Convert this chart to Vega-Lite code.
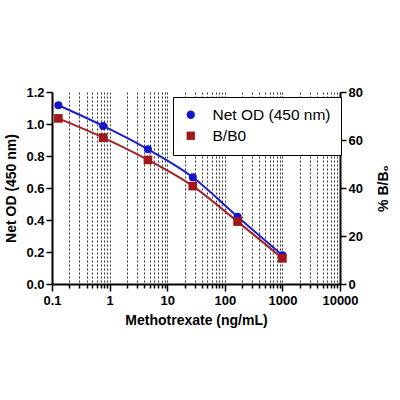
{
  "$schema": "https://vega.github.io/schema/vega-lite/v6.json",
  "autosize": "none",
  "width": 288,
  "height": 192,
  "padding": {"left": 52, "top": 92, "right": 60, "bottom": 116},
  "background": "white",
  "config": {
    "view": {"stroke": null},
    "font": "Liberation Sans",
    "axis": {
      "domainColor": "black",
      "domainWidth": 2,
      "tickColor": "black",
      "tickWidth": 1.5,
      "labelFont": "Liberation Sans",
      "labelFontWeight": "bold",
      "labelFontSize": 13,
      "labelColor": "black",
      "titleFont": "Liberation Sans",
      "titleFontWeight": "bold",
      "titleFontSize": 14,
      "titleColor": "black"
    },
    "legend": {
      "orient": "none",
      "legendX": 121,
      "legendY": 5,
      "strokeColor": "black",
      "fillColor": "white",
      "padding": 10,
      "labelFont": "Liberation Sans",
      "labelFontSize": 15.5,
      "labelColor": "black",
      "symbolSize": 70,
      "rowPadding": 4,
      "labelOffset": 14,
      "labelLimit": 300
    }
  },
  "data": {
    "values": [
      {"conc": 0.129, "od": 1.117, "bb0": 69.0},
      {"conc": 0.772, "od": 0.988, "bb0": 61.0},
      {"conc": 4.63, "od": 0.842, "bb0": 51.7},
      {"conc": 27.8, "od": 0.667, "bb0": 40.8},
      {"conc": 166.7, "od": 0.42, "bb0": 26.0},
      {"conc": 1000, "od": 0.18, "bb0": 10.7}
    ]
  },
  "encoding": {
    "x": {
      "field": "conc",
      "type": "quantitative",
      "scale": {"type": "log", "domain": [0.1, 10000], "nice": false},
      "axis": {
        "title": "Methotrexate (ng/mL)",
        "values": [0.1, 0.2, 0.3, 0.4, 0.5, 0.6, 0.7, 0.8, 0.9, 1, 2, 3, 4, 5, 6, 7, 8, 9, 10, 20, 30, 40, 50, 60, 70, 80, 90, 100, 200, 300, 400, 500, 600, 700, 800, 900, 1000, 2000, 3000, 4000, 5000, 6000, 7000, 8000, 9000, 10000],
        "labelExpr": "indexof([0.1,1,10,100,1000,10000], datum.value) >= 0 ? format(datum.value, '~g') : ''",
        "labelFlush": false,
        "labelOverlap": false,
        "labelPadding": 3,
        "tickSize": {"condition": {"test": "indexof([0.1,1,10,100,1000,10000], datum.value) >= 0", "value": 7}, "value": 4},
        "grid": true,
        "gridColor": "black",
        "gridDash": [2, 2],
        "gridWidth": 1,
        "gridOpacity": 0.8,
        "titlePadding": 6
      }
    }
  },
  "layer": [
    {
      "mark": {"type": "line", "interpolate": "monotone", "color": "#1b22c4", "strokeWidth": 2},
      "encoding": {
        "y": {"field": "od", "type": "quantitative", "scale": {"domain": [0, 1.2], "nice": false}, "axis": null}
      }
    },
    {
      "mark": {"type": "line", "interpolate": "monotone", "color": "#a0242a", "strokeWidth": 2},
      "encoding": {
        "y": {"field": "bb0", "type": "quantitative", "scale": {"domain": [0, 80], "nice": false}, "axis": null}
      }
    },
    {
      "mark": {"type": "point", "filled": true, "opacity": 1, "size": 65},
      "encoding": {
        "y": {
          "field": "od",
          "type": "quantitative",
          "scale": {"domain": [0, 1.2], "nice": false},
          "axis": {
            "title": "Net OD (450 nm)",
            "values": [0, 0.2, 0.4, 0.6, 0.8, 1.0, 1.2],
            "format": ".1f",
            "grid": false,
            "tickSize": 6,
            "titlePadding": 7
          }
        },
        "color": {"datum": "Net OD (450 nm)", "type": "nominal", "scale": {"domain": ["Net OD (450 nm)", "B/B0"], "range": ["#1515cc", "#a3171b"]}, "legend": {"title": null}},
        "shape": {"datum": "Net OD (450 nm)", "type": "nominal", "scale": {"domain": ["Net OD (450 nm)", "B/B0"], "range": ["circle", "square"]}, "legend": {"title": null}}
      }
    },
    {
      "mark": {"type": "point", "filled": true, "opacity": 1, "size": 75},
      "encoding": {
        "y": {
          "field": "bb0",
          "type": "quantitative",
          "scale": {"domain": [0, 80], "nice": false},
          "axis": {
            "orient": "right",
            "title": "% B/B₀",
            "titleAngle": 270,
            "titleBaseline": "top",
            "values": [0, 20, 40, 60, 80],
            "grid": false,
            "tickSize": 6,
            "titlePadding": 14
          }
        },
        "color": {"datum": "B/B0", "type": "nominal"},
        "shape": {"datum": "B/B0", "type": "nominal"}
      }
    }
  ],
  "resolve": {"scale": {"y": "independent"}, "axis": {"y": "independent"}}
}
